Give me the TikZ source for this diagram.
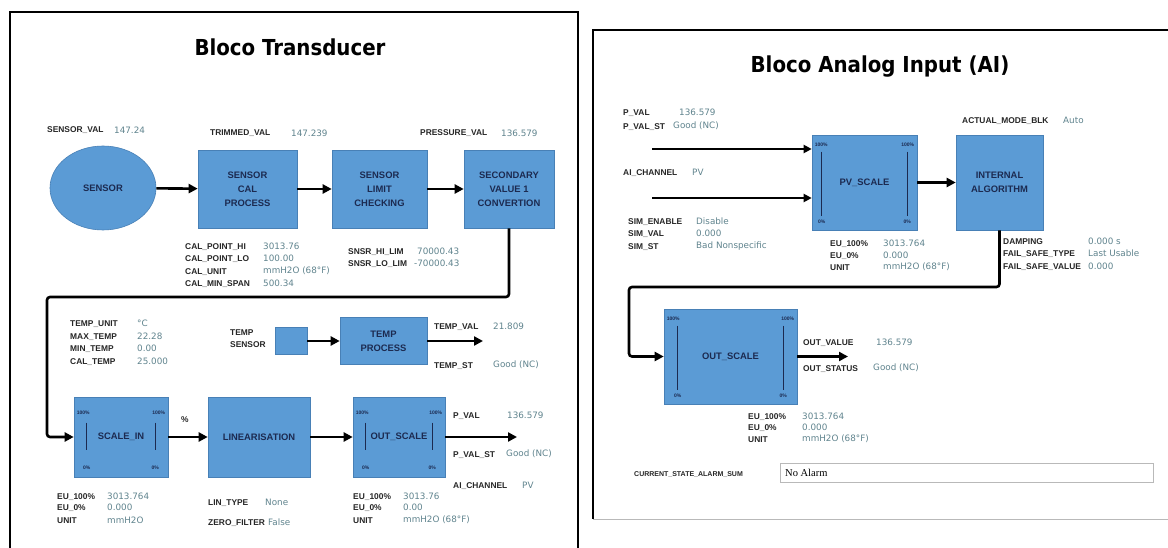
\documentclass[tikz,border=0pt]{standalone}
\usepackage{fontspec}
\setmainfont{Liberation Sans}
\newfontfamily\titlefont{DejaVu Sans Condensed}
\newfontfamily\valfont{DejaVu Sans}
\newfontfamily\fieldfont{Liberation Serif}
\usetikzlibrary{arrows.meta,calc,shapes.geometric}
\definecolor{boxblue}{RGB}{91,155,213}
\definecolor{boxedge}{RGB}{72,128,182}
\definecolor{navytxt}{RGB}{28,42,80}
\definecolor{valcol}{RGB}{96,132,142}
\newcommand\scalemk[6]{%
  \node[pct,anchor=west] (#1pa) at ($(#1.north west)+(3,#3)$) {100\%};
  \node[pct,anchor=east] (#1pb) at ($(#1.north east)+(-3,#3)$) {100\%};
  \draw[mkline] ($(#1.north west)+(#2,#4)$) -- ($(#1.south west)+(#2,-#5)$);
  \draw[mkline] ($(#1.north east)+(-#2,#4)$) -- ($(#1.south east)+(-#2,-#5)$);
  \node[pct] (#1pc) at ($(#1.south west)+(#2,-#6)$) {0\%};
  \node[pct] (#1pd) at ($(#1.south east)+(-#2,-#6)$) {0\%};
}
\begin{document}
\begin{tikzpicture}[x=1pt,y=-1pt,
  blk/.style={rectangle,fill=boxblue,draw=boxedge,line width=0.6pt,text=navytxt,
    font=\fontsize{9.4}{14}\selectfont\bfseries,align=center,inner sep=0pt},
  lbl/.style={anchor=west,inner sep=0pt,font=\fontsize{8.4}{9}\selectfont\bfseries,text=black!85},
  val/.style={anchor=west,inner sep=0pt,font=\valfont\fontsize{8.8}{10}\selectfont,text=valcol},
  pct/.style={inner sep=0pt,font=\fontsize{5}{5}\selectfont\bfseries,text=navytxt},
  mkline/.style={line width=1.2pt,navytxt},
  arr/.style={line width=2.6pt,-{Triangle[length=9pt,width=9pt]}},
  arrs/.style={line width=2.2pt,-{Triangle[length=8pt,width=8pt]}},
  wire/.style={line width=2.6pt,rounded corners=3pt,-{Triangle[length=9pt,width=9pt]}},
  frame/.style={line width=2.6pt,black},
  ttl/.style={inner sep=0pt,font=\titlefont\bfseries\fontsize{22}{25}\selectfont}
]
\useasboundingbox[fill=white] (0,0) rectangle (1168,548);

% ---------------- frames
\draw[frame] (10,550) -- (10,12) -- (578,12) -- (578,550);
\draw[frame] (1170,30) -- (593,30) -- (593,519);
\draw[gray!55,line width=1pt] (593,519) -- (1170,519);

% ---------------- left panel
\node[ttl] (t1) at (290,47) {Bloco Transducer};

\node[ellipse,fill=boxblue,draw=boxedge,line width=0.6pt,minimum width=106,minimum height=84,inner sep=0pt,
      text=navytxt,font=\fontsize{9.4}{10}\selectfont\bfseries] (sensor) at (103,188) {SENSOR};
\node[blk,minimum width=99,minimum height=78] (cal) at (247.5,189) {SENSOR\\CAL\\PROCESS};
\node[blk,minimum width=95,minimum height=78] (lim) at (379.5,189) {SENSOR\\LIMIT\\CHECKING};
\node[blk,minimum width=90,minimum height=78] (sec) at (509,189) {SECONDARY\\VALUE 1\\CONVERTION};
\draw[arr] (sensor) -- (cal);
\draw[arr] (cal) -- (lim);
\draw[arr] (lim) -- (sec);

\node[lbl] (a1) at (47,130) {SENSOR\_VAL};   \node[val] (b1) at (114,130) {147.24};
\node[lbl] (a2) at (210,133) {TRIMMED\_VAL}; \node[val] (b2) at (291,133) {147.239};
\node[lbl] (a3) at (420,133) {PRESSURE\_VAL};\node[val] (b3) at (501,133) {136.579};

\node[lbl] (a4) at (185,247) {CAL\_POINT\_HI}; \node[val] (b4) at (263,246) {3013.76};
\node[lbl] (a5) at (185,259) {CAL\_POINT\_LO}; \node[val] (b5) at (263,258) {100.00};
\node[lbl] (a6) at (185,272) {CAL\_UNIT};      \node[val] (b6) at (263,271) {mmH2O (68°F)};
\node[lbl] (a7) at (185,284) {CAL\_MIN\_SPAN}; \node[val] (b7) at (263,283) {500.34};

\node[lbl] (a8) at (348,252) {SNSR\_HI\_LIM}; \node[val] (b8) at (417,251) {70000.43};
\node[lbl] (a9) at (348,264) {SNSR\_LO\_LIM}; \node[val] (b9) at (414,263) {-70000.43};

\node[lbl] (a10) at (70,324) {TEMP\_UNIT}; \node[val] (b10) at (137,323) {°C};
\node[lbl] (a11) at (70,337) {MAX\_TEMP};  \node[val] (b11) at (137,336) {22.28};
\node[lbl] (a12) at (70,349) {MIN\_TEMP};  \node[val] (b12) at (137,348) {0.00};
\node[lbl] (a13) at (70,362) {CAL\_TEMP};  \node[val] (b13) at (137,361) {25.000};

\node[lbl,align=left,font=\fontsize{8.4}{12}\selectfont\bfseries] (a14) at (230,339) {TEMP\\SENSOR};
\node[blk,minimum width=32,minimum height=27] (tsen) at (291,341) {};
\node[blk,minimum width=87,minimum height=47] (tproc) at (383.5,341) {TEMP\\PROCESS};
\draw[arr] (tsen) -- (tproc);
\coordinate (tout) at (483,341);
\draw[arr] (tproc) -- (tout);
\node[lbl] (a15) at (434,327) {TEMP\_VAL}; \node[val] (b15) at (493,326) {21.809};
\node[lbl] (a16) at (434,366) {TEMP\_ST};  \node[val] (b16) at (493,365) {Good (NC)};

\node[blk,minimum width=94,minimum height=80] (sin) at (121,437) {SCALE\_IN};
\node[blk,minimum width=102,minimum height=80] (lin) at (259,437) {LINEARISATION};
\node[blk,minimum width=92,minimum height=80] (osl) at (399,437) {OUT\_SCALE};
\scalemk{sin}{13}{16}{26}{27}{10}
\scalemk{osl}{13}{16}{26}{27}{10}
\node[lbl] (pc) at (181,420) {\%};
\draw[arr] (sin) -- (lin);
\draw[arr] (lin) -- (osl);
\coordinate (pout) at (517,437);
\draw[arr] (osl) -- (pout);

\coordinate (k1) at (47,297);
\draw[wire] (sec.south) |- (k1) |- (sin.west);

\node[lbl] (a17) at (453,416) {P\_VAL};     \node[val] (b17) at (507,415) {136.579};
\node[lbl] (a18) at (453,455) {P\_VAL\_ST}; \node[val] (b18) at (506,454) {Good (NC)};
\node[lbl] (a19) at (453,486) {AI\_CHANNEL};\node[val] (b19) at (522,485) {PV};

\node[lbl] (a20) at (57,497) {EU\_100\%}; \node[val] (b20) at (107,496) {3013.764};
\node[lbl] (a21) at (57,508) {EU\_0\%};   \node[val] (b21) at (107,507) {0.000};
\node[lbl] (a22) at (57,521) {UNIT};      \node[val] (b22) at (107,520) {mmH2O};

\node[lbl] (a23) at (208,503) {LIN\_TYPE};    \node[val] (b23) at (265,502) {None};
\node[lbl] (a24) at (208,523) {ZERO\_FILTER}; \node[val] (b24) at (268,522) {False};

\node[lbl] (a25) at (353,497) {EU\_100\%}; \node[val] (b25) at (403,496) {3013.76};
\node[lbl] (a26) at (353,508) {EU\_0\%};   \node[val] (b26) at (403,507) {0.00};
\node[lbl] (a27) at (353,521) {UNIT};      \node[val] (b27) at (403,520) {mmH2O (68°F)};

% ---------------- right panel
\node[ttl] (t2) at (880,67) {Bloco Analog Input (AI)};

\node[blk,minimum width=105,minimum height=95] (pvs) at (864.5,182.5) {PV\_SCALE};
\node[blk,minimum width=87,minimum height=95] (ialg) at (999.5,182.5) {INTERNAL\\ALGORITHM};
\scalemk{pvs}{10}{10}{17}{14}{9}
\draw[arr] (pvs) -- (ialg);

\coordinate (in1) at (652,149);
\coordinate (in2) at (652,198);
\draw[arrs] (in1) -- (in1 -| pvs.west);
\draw[arrs] (in2) -- (in2 -| pvs.west);

\node[lbl] (c1) at (623,113) {P\_VAL};     \node[val] (d1) at (679,112) {136.579};
\node[lbl] (c2) at (623,127) {P\_VAL\_ST}; \node[val] (d2) at (673,126) {Good (NC)};
\node[lbl] (c3) at (623,173) {AI\_CHANNEL};\node[val] (d3) at (692,172) {PV};

\node[lbl] (c4) at (628,222) {SIM\_ENABLE}; \node[val] (d4) at (696,221) {Disable};
\node[lbl] (c5) at (628,234) {SIM\_VAL};    \node[val] (d5) at (696,233) {0.000};
\node[lbl] (c6) at (628,247) {SIM\_ST};     \node[val] (d6) at (696,246) {Bad Nonspecific};

\node[lbl] (c7) at (962,121) {ACTUAL\_MODE\_BLK}; \node[val] (d7) at (1063,120) {Auto};

\node[lbl] (c8) at (830,244) {EU\_100\%}; \node[val] (d8) at (883,243) {3013.764};
\node[lbl] (c9) at (830,256) {EU\_0\%};   \node[val] (d9) at (883,255) {0.000};
\node[lbl] (c10) at (830,268) {UNIT};     \node[val] (d10) at (883,267) {mmH2O (68°F)};

\node[lbl] (c11) at (1003,242) {DAMPING};         \node[val] (d11) at (1088,241) {0.000 s};
\node[lbl] (c12) at (1003,254) {FAIL\_SAFE\_TYPE}; \node[val] (d12) at (1088,253) {Last Usable};
\node[lbl] (c13) at (1003,267) {FAIL\_SAFE\_VALUE};\node[val] (d13) at (1088,266) {0.000};

\node[blk,minimum width=133,minimum height=95] (osr) at (730.5,356.5) {OUT\_SCALE};
\scalemk{osr}{14}{10}{17}{14}{9}
\coordinate (k2) at (629,287);
\draw[wire] (ialg.south) |- (k2) |- (osr.west);
\coordinate (oout) at (848,356.5);
\draw[arr] (osr) -- (oout);

\node[lbl] (c14) at (803,343) {OUT\_VALUE};  \node[val] (d14) at (876,342) {136.579};
\node[lbl] (c15) at (803,369) {OUT\_STATUS}; \node[val] (d15) at (873,368) {Good (NC)};

\node[lbl] (c16) at (748,417) {EU\_100\%}; \node[val] (d16) at (802,416) {3013.764};
\node[lbl] (c17) at (748,428) {EU\_0\%};   \node[val] (d17) at (802,427) {0.000};
\node[lbl] (c18) at (748,440) {UNIT};      \node[val] (d18) at (802,439) {mmH2O (68°F)};

\node[lbl,font=\fontsize{7}{7}\selectfont\bfseries] (c19) at (634,474) {CURRENT\_STATE\_ALARM\_SUM};
\node[draw=gray!55,line width=0.9pt,minimum width=373,minimum height=19,inner sep=0pt,anchor=west] (afield) at (780,472.5) {};
\node[anchor=west,inner sep=0pt,font=\fieldfont\fontsize{10.5}{11}\selectfont] (atext) at (785,472.5) {No Alarm};
\end{tikzpicture}
\end{document}
